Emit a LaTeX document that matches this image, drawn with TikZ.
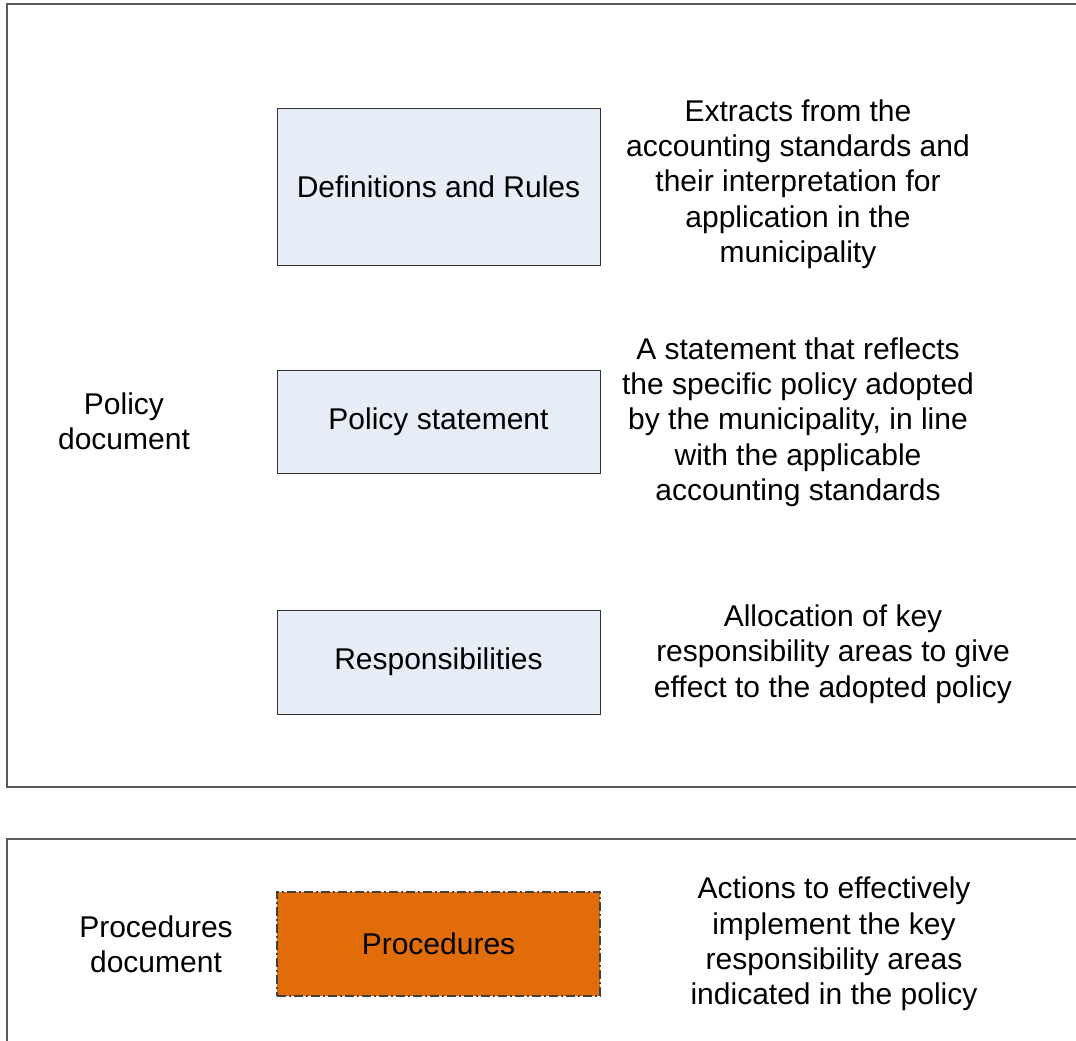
\documentclass[tikz,border=0pt]{standalone}
\usepackage{fontspec}
\setmainfont{Liberation Sans}
\begin{document}
\begin{tikzpicture}[x=1pt,y=-1pt,
  frame/.style={draw=black!65,line width=1.5pt},
  bluebox/.style={draw=black!80,line width=0.9pt,fill=lightblue,minimum width=323pt,inner sep=0pt,font=\fontsize{30}{35.3}\selectfont},
  procbox/.style={draw=black!75,line width=1.3pt,dash pattern=on 9pt off 3pt on 2pt off 3pt,fill=procorange,minimum width=323pt,minimum height=104pt,inner sep=0pt,font=\fontsize{30}{35.3}\selectfont},
  txt/.style={align=center,inner sep=0pt,font=\fontsize{30}{35.3}\selectfont}]
\definecolor{lightblue}{HTML}{E6EDF7}
\definecolor{procorange}{HTML}{E06C0A}
\useasboundingbox (0,0) rectangle (1076,1041);
\draw[frame] (7,4) rectangle (1085,787);
\draw[frame] (7,839) rectangle (1085,1050);
\node[bluebox,minimum height=157pt] (def) at (438.5,186.5) {Definitions and Rules};
\node[bluebox,minimum height=103pt] (pol) at (438.5,421.5) {Policy statement};
\node[bluebox,minimum height=104pt] (resp) at (438.5,662) {Responsibilities};
\node[procbox] (proc) at (438.5,944) {Procedures};
\node[txt] (t1) at (798,184) {Extracts from the\\accounting standards and\\their interpretation for\\application in the\\municipality};
\node[txt] (t2) at (798,422) {A statement that reflects\\the specific policy adopted\\by the municipality, in line\\with the applicable\\accounting standards};
\node[txt] (t3) at (833,654) {Allocation of key\\responsibility areas to give\\effect to the adopted policy};
\node[txt] (t4) at (834,944) {Actions to effectively\\implement the key\\responsibility areas\\indicated in the policy};
\node[txt] (pd) at (124,421) {Policy\\document};
\node[txt] (prd) at (156,944) {Procedures\\document};
\end{tikzpicture}
\end{document}
